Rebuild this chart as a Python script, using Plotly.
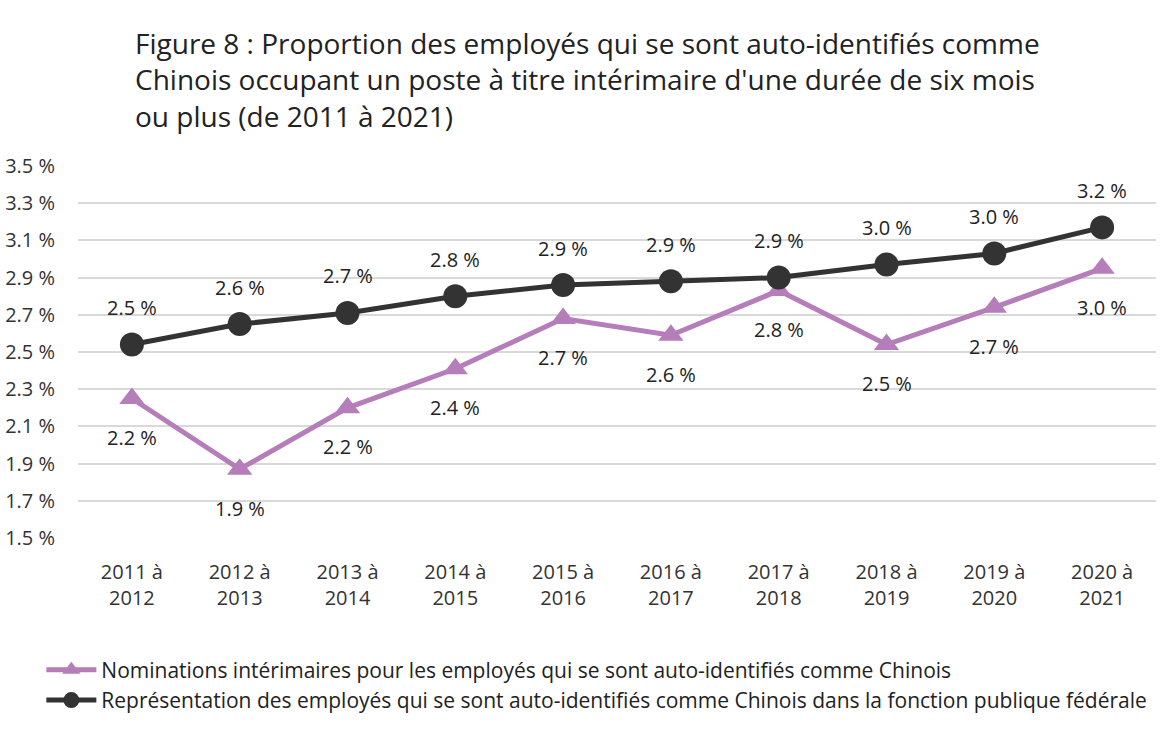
import plotly.graph_objects as go

categories = ["2011 à<br>2012", "2012 à<br>2013", "2013 à<br>2014", "2014 à<br>2015", "2015 à<br>2016",
              "2016 à<br>2017", "2017 à<br>2018", "2018 à<br>2019", "2019 à<br>2020", "2020 à<br>2021"]
nominations = [2.25, 1.87, 2.20, 2.41, 2.68, 2.59, 2.83, 2.54, 2.74, 2.95]
representation = [2.54, 2.65, 2.71, 2.80, 2.86, 2.88, 2.90, 2.97, 3.03, 3.17]
tick_vals = [1.5, 1.7, 1.9, 2.1, 2.3, 2.5, 2.7, 2.9, 3.1, 3.3, 3.5]
tick_text = ["1.5 %", "1.7 %", "1.9 %", "2.1 %", "2.3 %", "2.5 %", "2.7 %", "2.9 %", "3.1 %", "3.3 %", "3.5 %"]
name_nom = "Nominations intérimaires pour les employés qui se sont auto-identifiés comme Chinois"
name_rep = "Représentation des employés qui se sont auto-identifiés comme Chinois dans la fonction publique fédérale"
title = ("Figure 8 : Proportion des employés qui se sont auto-identifiés comme<br>"
         "Chinois occupant un poste à titre intérimaire d'une durée de six mois<br>"
         "ou plus (de 2011 à 2021)")

FONT = "Open Sans"
PURPLE = "#B57DBA"
DARK = "#333333"

fig = go.Figure()
fig.add_trace(go.Scatter(x=categories, y=nominations, name=name_nom, mode="lines+markers",
                         line=dict(color=PURPLE, width=5),
                         marker=dict(symbol="triangle-up", size=22, color=PURPLE)))
fig.add_trace(go.Scatter(x=categories, y=representation, name=name_rep, mode="lines+markers",
                         line=dict(color=DARK, width=5),
                         marker=dict(symbol="circle", size=24, color=DARK)))

for c, v in zip(categories, representation):
    fig.add_annotation(x=c, y=v, text=f"{v:.1f} %", showarrow=False, yshift=37,
                       font=dict(family=FONT, size=20, color="#222222"))
for c, v in zip(categories, nominations):
    fig.add_annotation(x=c, y=v, text=f"{v:.1f} %", showarrow=False, yshift=-39,
                       font=dict(family=FONT, size=20, color="#222222"))

fig.update_layout(
    width=1170, height=735,
    margin=dict(l=78, r=14, t=166, b=197, autoexpand=False),
    paper_bgcolor="white", plot_bgcolor="white",
    font=dict(family=FONT, size=20, color="#222222"),
    title=dict(text=title, x=135 / 1170, xanchor="left", y=1 - 54 / 735, yanchor="top",
               font=dict(family=FONT, size=28, color="#222222")),
    xaxis=dict(type="category", range=[-0.5, 9.5], showgrid=False, zeroline=False,
               showline=False, ticks="", automargin=False, ticklabelstandoff=20,
               tickfont=dict(size=20, color="#333333")),
    yaxis=dict(range=[1.5, 3.5], tickvals=tick_vals, ticktext=tick_text, showgrid=True,
               gridcolor="#D9D9D9", gridwidth=1.5, zeroline=False, showline=False,
               automargin=False, tickfont=dict(size=20, color="#333333"), ticklabelstandoff=22),
    showlegend=True,
    legend=dict(x=-0.034, xanchor="left", y=-0.30, yanchor="top", orientation="v",
                font=dict(size=21, color="#222222"), tracegroupgap=0, itemwidth=50),
)

fig.write_html("out.html", config={"displayModeBar": False},
               post_script="document.body.style.margin='0px';")
